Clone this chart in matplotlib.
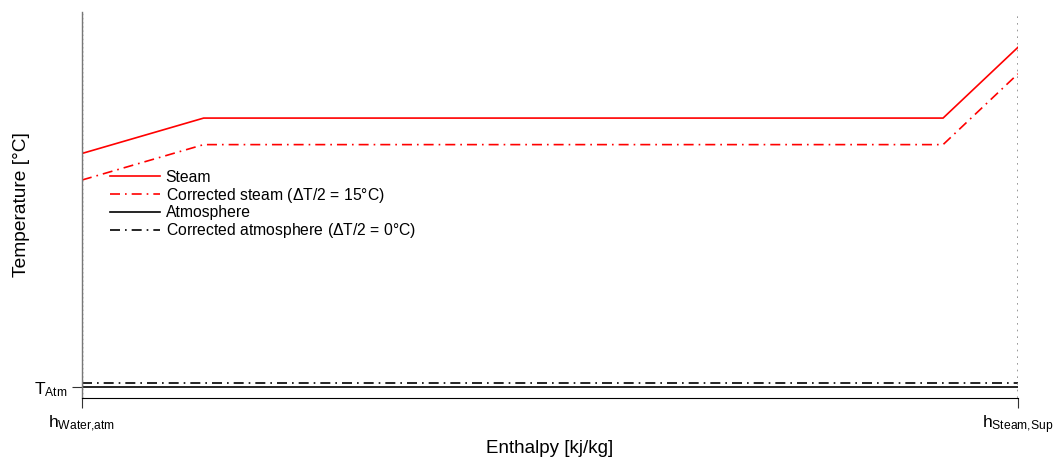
import matplotlib
matplotlib.use("Agg")
import matplotlib.pyplot as plt

plt.rcParams['font.family'] = ['Liberation Sans', 'DejaVu Sans']
plt.rcParams['mathtext.fontset'] = 'custom'
plt.rcParams['mathtext.rm'] = 'Liberation Sans'
plt.rcParams['mathtext.it'] = 'Liberation Sans'
plt.rcParams['mathtext.default'] = 'regular'

# Data (enthalpy normalised 0..1, temperatures in °C)
h_steam = [0.0, 0.130, 0.920, 1.0]
T_steam = [157, 177, 177, 217]
T_steam_corr = [142, 162, 162, 202]
h_atm = [0.0, 1.0]
T_atm = [25, 25]
T_atm_corr = [27, 27]
x_ticks = [0.0, 1.0]
x_ticklabels = [r'$h_{\rm Water{,}atm}$', r'$h_{\rm Steam{,}Sup}$']
y_ticks = [25]
y_ticklabels = [r'$T_{\rm Atm}$']
legend_labels = ['Steam', 'Corrected steam ($\\Delta$T/2 = 15°C)', 'Atmosphere',
                 'Corrected atmosphere ($\\Delta$T/2 = 0°C)']

fig = plt.figure(figsize=(10.54, 4.58), dpi=100)
ax = fig.add_axes([0.0778, 0.131, 0.888, 0.843])

dd = (0, (6, 3, 1, 3))
ax.plot(h_steam, T_steam, color='red', lw=1.2, label=legend_labels[0])
ax.plot(h_steam, T_steam_corr, color='red', lw=1.2, linestyle=dd, label=legend_labels[1])
ax.plot(h_atm, T_atm, color='black', lw=1.2, label=legend_labels[2])
ax.plot(h_atm, T_atm_corr, color='black', lw=1.2, linestyle=dd, label=legend_labels[3])

ax.axvline(1.0, color='#888888', lw=1.2, linestyle=(0, (1, 3)))
ax.axvline(0.0, color='#444444', lw=1.0, linestyle=(0, (1, 2)))

ax.set_xlim(0, 1)
ax.set_ylim(18.8, 237)
ax.set_xticks(x_ticks)
ax.set_xticklabels(x_ticklabels, fontsize=12.5)
ax.set_yticks(y_ticks)
ax.set_yticklabels(y_ticklabels, fontsize=12.5)
ax.tick_params(axis='both', direction='out', length=7, width=0.8, color='#333333')
ax.tick_params(axis='x', pad=4)

for s in ['top', 'right']:
    ax.spines[s].set_visible(False)
ax.spines['left'].set_color('#777777')
ax.spines['left'].set_linewidth(1.0)
ax.spines['bottom'].set_linewidth(0.8)

ax.set_xlabel('Enthalpy [kj/kg]', fontsize=13.5, labelpad=3)
ax.set_ylabel('Temperature [°C]', fontsize=13.8, labelpad=3)

leg = ax.legend(loc='upper left', bbox_to_anchor=(0.023, 0.607), frameon=False,
                fontsize=11.3, handlelength=3.2, handletextpad=0.35, labelspacing=0.05,
                borderaxespad=0)

fig.savefig('out.png', dpi=100)
